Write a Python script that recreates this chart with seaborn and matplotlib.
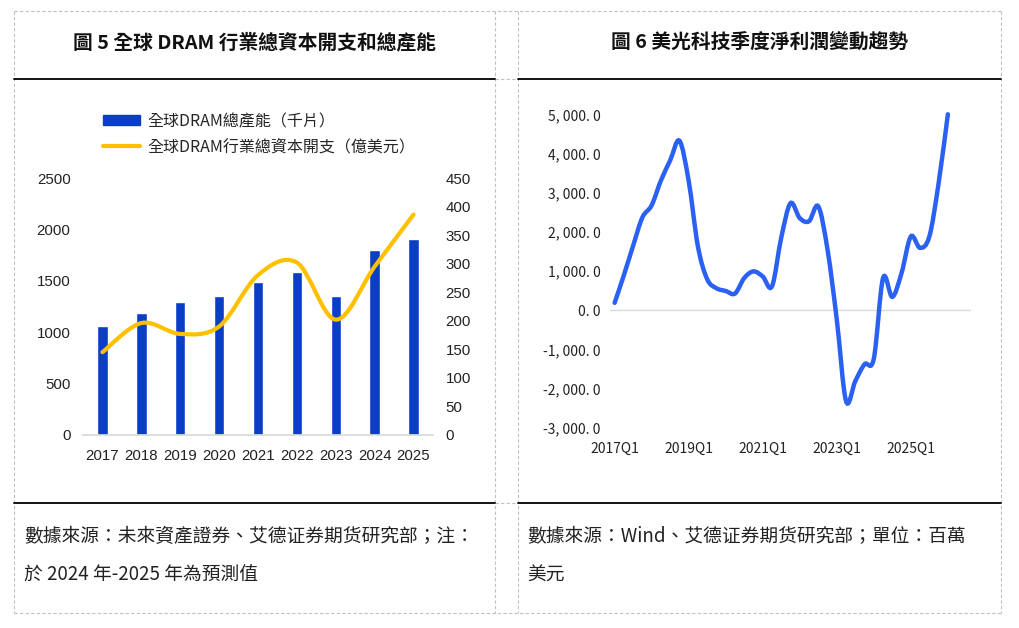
import numpy as np
import pandas as pd
import matplotlib
matplotlib.use("Agg")
import matplotlib.pyplot as plt
from matplotlib.path import Path
from matplotlib.patches import PathPatch, Patch
from matplotlib.lines import Line2D
import seaborn as sns

# 圖5 數據
years = ["2017", "2018", "2019", "2020", "2021", "2022", "2023", "2024", "2025"]
capacity = [1062, 1188, 1295, 1354, 1490, 1588, 1354, 1795, 1909]   # 千片
capex = [145, 196, 177, 190, 280, 302, 202, 295, 386]                # 億美元

# 圖6 數據 (百萬美元)
quarters = [f"{y}Q{q}" for y in range(2017, 2027) for q in range(1, 5)][:37]
net_income = [187, 894, 1647, 2368, 2678, 3309, 3823, 4325, 3300, 1625,
              790, 560, 490, 424, 820, 990, 860, 610, 1850, 2730,
              2350, 2270, 2650, 1545, -240, -2320, -1810, -1380, -1240, 820,
              340, 950, 1880, 1590, 1880, 3240, 5000]

left_yticks = [0, 500, 1000, 1500, 2000, 2500]
right_yticks = [0, 50, 100, 150, 200, 250, 300, 350, 400, 450]
r_yticks = [-3000, -2000, -1000, 0, 1000, 2000, 3000, 4000, 5000]
r_ylabels = ["-3, 000. 0", "-2, 000. 0", "-1, 000. 0", "0. 0", "1, 000. 0",
             "2, 000. 0", "3, 000. 0", "4, 000. 0", "5, 000. 0"]

BAR_COLOR = "#0A3EC6"
CAPEX_COLOR = "#FFC000"
NI_COLOR = "#2B61F2"

sns.set_theme(style="white")
plt.rcParams['font.family'] = ['Noto Sans CJK TC', 'DejaVu Sans']

W, H = 1020, 628
fig = plt.figure(figsize=(W / 100, H / 100), dpi=100)


def fx(x):
    return x / W


def fy(y):
    return 1 - y / H


def smooth_path(xs, ys):
    # 平滑曲線 (Catmull-Rom -> Bezier)
    pts = np.column_stack([xs, ys]).astype(float)
    n = len(pts)
    verts = [pts[0]]
    codes = [Path.MOVETO]
    for i in range(n - 1):
        p0 = pts[max(i - 1, 0)]
        p1 = pts[i]
        p2 = pts[i + 1]
        p3 = pts[min(i + 2, n - 1)]
        verts += [p1 + (p2 - p0) / 6, p2 - (p3 - p1) / 6, p2]
        codes += [Path.CURVE4] * 3
    return Path(verts, codes)


# ---- 表格框線 ----
dash = dict(color="#C0C0C0", lw=0.8, linestyle=(0, (3, 2)))
for x in [14, 495, 518, 1001]:
    fig.add_artist(Line2D([fx(x), fx(x)], [fy(11), fy(613)], **dash))
for y in [11, 613]:
    fig.add_artist(Line2D([fx(14), fx(1001)], [fy(y), fy(y)], **dash))
for y in [79, 503]:
    fig.add_artist(Line2D([fx(495), fx(518)], [fy(y), fy(y)], **dash))
    fig.add_artist(Line2D([fx(14), fx(495)], [fy(y), fy(y)], color="black", lw=1.3))
    fig.add_artist(Line2D([fx(518), fx(1001)], [fy(y), fy(y)], color="black", lw=1.3))

# ---- 標題 ----
fig.text(fx(254.5), fy(42), "圖 5 全球 DRAM 行業總資本開支和總產能", ha="center", va="center",
         fontsize=14.2, fontweight="bold", color="#111111")
fig.text(fx(759.5), fy(42), "圖 6 美光科技季度淨利潤變動趨勢", ha="center", va="center",
         fontsize=14.2, fontweight="bold", color="#111111")

# ---- 資料來源 ----
foot = dict(fontsize=13.5, color="#222222", va="center", ha="left")
fig.text(fx(24), fy(537), "數據來源：未來資產證券、艾德证券期货研究部；注：", **foot)
fig.text(fx(24), fy(575), "於 2024 年-2025 年為預測值", **foot)
fig.text(fx(527), fy(537), "數據來源：Wind、艾德证券期货研究部；單位：百萬", **foot)
fig.text(fx(527), fy(575), "美元", **foot)

# ---- 圖5 ----
ax = fig.add_axes([fx(83), fy(435), (433 - 83) / W, (435 - 178) / H])
df5 = pd.DataFrame({"year": years, "capacity": capacity, "capex": capex})
sns.barplot(data=df5, x="year", y="capacity", color=BAR_COLOR, saturation=1,
            width=0.27, ax=ax)
ax.set_xlim(-0.5, len(years) - 0.5)
ax.set_ylim(0, 2500)
ax.set_yticks(left_yticks)
ax.set_xlabel("")
ax.set_ylabel("")
for s in ["top", "right", "left"]:
    ax.spines[s].set_visible(False)
ax.spines["bottom"].set_color("#D9D9D9")
ax.tick_params(axis="both", length=0, labelsize=10.8, colors="#222222")
ax.tick_params(axis="y", pad=9)
ax.tick_params(axis="x", pad=10)
for lab in ax.get_xticklabels() + ax.get_yticklabels():
    lab.set_fontfamily("Liberation Sans")

ax2 = ax.twinx()
ax2.set_ylim(0, 450)
ax2.set_yticks(right_yticks)
ax2.add_patch(PathPatch(smooth_path(np.arange(len(years)), df5["capex"]),
                        facecolor="none", edgecolor=CAPEX_COLOR, lw=3,
                        capstyle="round"))
for s in ax2.spines.values():
    s.set_visible(False)
ax2.tick_params(axis="y", length=0, labelsize=10.8, colors="#222222", pad=9)
for lab in ax2.get_yticklabels():
    lab.set_fontfamily("Liberation Sans")
ax2.grid(False)
ax.grid(False)

handles = [Patch(color=BAR_COLOR, label="全球DRAM總產能（千片）"),
           Line2D([0], [0], color=CAPEX_COLOR, lw=3, label="全球DRAM行業總資本開支（億美元）")]
fig.legend(handles=handles, loc="upper left", bbox_to_anchor=(fx(103), fy(113)),
           frameon=False, fontsize=11.5, handlelength=2.3, handleheight=0.6,
           handletextpad=0.45, labelspacing=0.5, borderaxespad=0, borderpad=0)

# ---- 圖6 ----
axr = fig.add_axes([fx(610), fy(427.7), (971 - 610) / W, (427.7 - 114.3) / H])
df6 = pd.DataFrame({"quarter": quarters, "ni": net_income})
axr.add_patch(PathPatch(smooth_path(np.arange(len(quarters)), df6["ni"]),
                        facecolor="none", edgecolor=NI_COLOR, lw=3.2,
                        capstyle="round", clip_on=False, zorder=3))
axr.axhline(0, color="#D9D9D9", lw=1, zorder=1)
axr.set_xlim(-0.5, 38.5)
axr.set_ylim(-3000, 5000)
axr.set_yticks(r_yticks)
axr.set_yticklabels(r_ylabels)
xt = list(range(0, len(quarters), 8))
axr.set_xticks(xt)
axr.set_xticklabels([quarters[i] for i in xt])
for s in axr.spines.values():
    s.set_visible(False)
axr.tick_params(axis="both", length=0, labelsize=10, colors="#222222")
axr.tick_params(axis="y", pad=7)
axr.tick_params(axis="x", pad=10)
axr.grid(False)

fig.savefig("out.png", dpi=100, facecolor="white")
